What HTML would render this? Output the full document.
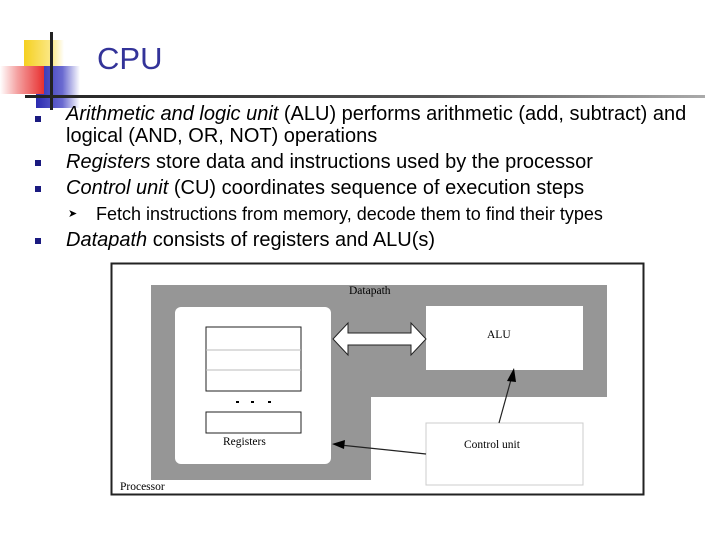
<!DOCTYPE html>
<html><head><style>
body{margin:0;width:720px;height:540px;background:#fff;position:relative;overflow:hidden;font-family:"Liberation Sans",sans-serif}
.a{position:absolute}
.t{font-size:20px;color:#000;white-space:nowrap;left:66px}
.b{position:absolute;left:35px;width:6px;height:6px;background:#1a1a80}
.s{font-family:"Liberation Serif",serif;font-size:11.5px;position:absolute;white-space:nowrap}
</style></head><body>
<div class="a" style="left:24px;top:40px;width:40px;height:40px;background:linear-gradient(90deg,#f5d020,#fbe98a 70%,#fff)"></div>
<div class="a" style="left:36px;top:66px;width:44px;height:42px;background:linear-gradient(90deg,#2b2bb0,#6a6ad0 60%,#fff)"></div>
<div class="a" style="left:0;top:66px;width:44px;height:28px;background:linear-gradient(90deg,#fff,#f4a0a0 40%,#e83030)"></div>
<div class="a" style="left:50px;top:32px;width:3px;height:78px;background:#222"></div>
<div class="a" style="left:25px;top:95px;width:680px;height:3px;background:linear-gradient(90deg,#222,#555 60%,#aaa)"></div>
<div class="a" style="left:97px;top:41px;font-size:31px;color:#333399">CPU</div>
<div class="b" style="top:116px"></div><div class="b" style="top:160px"></div><div class="b" style="top:186px"></div><div class="b" style="top:238px"></div>
<div class="a t" style="top:103px"><i>Arithmetic and logic unit</i> (ALU) performs arithmetic (add, subtract) and</div>
<div class="a t" style="top:125px">logical (AND, OR, NOT) operations</div>
<div class="a t" style="top:151px"><i>Registers</i> store data and instructions used by the processor</div>
<div class="a t" style="top:177px"><i>Control unit</i> (CU) coordinates sequence of execution steps</div>
<div class="a" style="left:68px;top:207px;font-size:11px">➤</div>
<div class="a" style="left:96px;top:204px;font-size:18px;white-space:nowrap">Fetch instructions from memory, decode them to find their types</div>
<div class="a t" style="top:229px"><i>Datapath</i> consists of registers and ALU(s)</div>
<svg class="a" style="left:0;top:0" width="720" height="540">
<rect x="111.5" y="263.5" width="532" height="231" fill="#fff" stroke="#222" stroke-width="2"/>
<path d="M151 285H607V397H371V480H151Z" fill="#969696"/>
<rect x="175" y="307" width="156" height="157" rx="6" fill="#fff"/>
<rect x="206" y="327" width="95" height="64" fill="#fff" stroke="#222"/>
<line x1="206" y1="350" x2="301" y2="350" stroke="#bbb"/><line x1="206" y1="370" x2="301" y2="370" stroke="#bbb"/>
<rect x="206" y="412" width="95" height="21" fill="#fff" stroke="#222"/>
<rect x="236" y="401" width="3" height="2" fill="#000"/><rect x="251" y="401" width="3" height="2" fill="#000"/><rect x="268" y="401" width="3" height="2" fill="#000"/>
<rect x="426" y="306" width="157" height="64" fill="#fff"/>
<rect x="426" y="423" width="157" height="62" fill="#fff" stroke="#ccc"/>
<path d="M333 339L348 323V333H411V323L426 339L411 355V345H348V355Z" fill="#fff" stroke="#222"/>
<line x1="499" y1="423" x2="512" y2="376" stroke="#222" stroke-width="1.2"/>
<path d="M514 368L507 381L516 382Z" fill="#000"/>
<line x1="426" y1="454" x2="340" y2="445" stroke="#222" stroke-width="1.2"/>
<path d="M332 444L345 440L344 449Z" fill="#000"/>
</svg>
<div class="s" style="left:349px;top:285px">Datapath</div>
<div class="s" style="left:487px;top:329px">ALU</div>
<div class="s" style="left:223px;top:436px">Registers</div>
<div class="s" style="left:464px;top:439px">Control unit</div>
<div class="s" style="left:120px;top:481px">Processor</div>
</body></html>
